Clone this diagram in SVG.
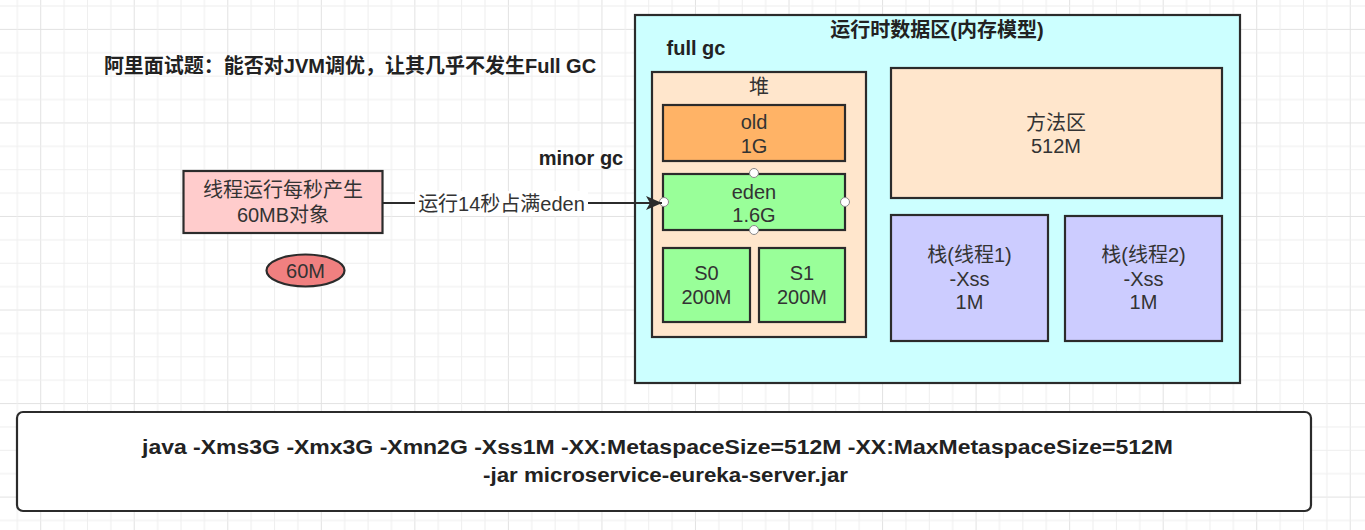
<svg xmlns="http://www.w3.org/2000/svg" width="1365" height="530" viewBox="0 0 1365 530">
<style>
.t{font-family:"Liberation Sans","Noto Sans CJK SC",sans-serif;font-size:20px;fill:#333;text-anchor:middle;dominant-baseline:central}
.b{font-weight:bold;fill:#222}
.box{stroke:#2b2b2b;stroke-width:2.2}
.h{fill:#fff;stroke:#888;stroke-width:1}
</style>
<defs>
<pattern id="grid" patternUnits="userSpaceOnUse" x="40.2" y="28.9" width="93.54" height="93.54">
<rect x="0" y="0" width="1" height="93.54" fill="#e2e2e2"/>
<rect x="0" y="0" width="93.54" height="1" fill="#e2e2e2"/>
<rect x="23.385" y="0" width="1" height="93.54" fill="#eeeeee"/>
<rect x="46.77" y="0" width="1" height="93.54" fill="#eeeeee"/>
<rect x="70.155" y="0" width="1" height="93.54" fill="#eeeeee"/>
<rect x="0" y="23.385" width="93.54" height="1" fill="#eeeeee"/>
<rect x="0" y="46.77" width="93.54" height="1" fill="#eeeeee"/>
<rect x="0" y="70.155" width="93.54" height="1" fill="#eeeeee"/>
</pattern>
<marker id="arr" markerUnits="userSpaceOnUse" markerWidth="18" markerHeight="14" refX="16" refY="7" orient="auto">
<path d="M0,0 L16,7 L0,14 L4,7 Z" fill="#2b2b2b"/>
</marker>
</defs>
<rect width="1365" height="530" fill="#fff"/>
<rect width="1365" height="530" fill="url(#grid)"/>

<g id="title"><text class="t b" x="350" y="66">阿里面试题：能否对JVM调优，让其几乎不发生Full GC</text></g>
<g id="minorgc"><text class="t b" x="581" y="158">minor gc</text></g>

<g id="runtime">
<rect class="box" x="635" y="15" width="605" height="368" fill="#ccffff" stroke-width="2.5"/>
<text class="t b" x="937" y="30">运行时数据区(内存模型)</text>
<text class="t b" x="696" y="48">full gc</text>
</g>

<g id="heap">
<rect class="box" x="652" y="72" width="214" height="265" fill="#ffe6cc"/>
<text class="t" x="759" y="87">堆</text>
</g>
<g id="old">
<rect class="box" x="663" y="105" width="182" height="56" fill="#ffb366"/>
<text class="t" x="754" y="122">old</text>
<text class="t" x="754" y="146">1G</text>
</g>
<g id="eden">
<rect class="box" x="663" y="174" width="182" height="56" fill="#99ff99"/>
<text class="t" x="754" y="192">eden</text>
<text class="t" x="754" y="215">1.6G</text>
<circle class="h" cx="754" cy="173" r="4.5"/>
<circle class="h" cx="754" cy="230" r="4.5"/>
<circle class="h" cx="664" cy="202" r="4.5"/>
<circle class="h" cx="845" cy="202" r="4.5"/>
</g>
<g id="s0">
<rect class="box" x="663" y="248" width="87" height="74" fill="#99ff99"/>
<text class="t" x="706.5" y="273">S0</text>
<text class="t" x="706.5" y="297">200M</text>
</g>
<g id="s1">
<rect class="box" x="759" y="248" width="86" height="74" fill="#99ff99"/>
<text class="t" x="802" y="273">S1</text>
<text class="t" x="802" y="297">200M</text>
</g>
<g id="method">
<rect class="box" x="891" y="68" width="331" height="130" fill="#ffe6cc"/>
<text class="t" x="1056" y="123">方法区</text>
<text class="t" x="1056" y="146">512M</text>
</g>
<g id="stack1">
<rect class="box" x="891" y="215" width="157" height="126" fill="#ccccff"/>
<text class="t" x="969.5" y="255">栈(线程1)</text>
<text class="t" x="969.5" y="279">-Xss</text>
<text class="t" x="969.5" y="302">1M</text>
</g>
<g id="stack2">
<rect class="box" x="1065" y="216" width="157" height="125" fill="#ccccff"/>
<text class="t" x="1143.5" y="255">栈(线程2)</text>
<text class="t" x="1143.5" y="279">-Xss</text>
<text class="t" x="1143.5" y="302">1M</text>
</g>

<g id="thread">
<rect class="box" x="183.5" y="171" width="199" height="62" fill="#ffcccc"/>
<text class="t" x="283" y="190">线程运行每秒产生</text>
<text class="t" x="283" y="215">60MB对象</text>
</g>
<g id="m60">
<ellipse class="box" cx="305.5" cy="270.5" rx="39" ry="16" fill="#f08080"/>
<text class="t" x="305.5" y="271">60M</text>
</g>

<g id="connectors">
<line x1="383" y1="203" x2="662" y2="203" stroke="#2b2b2b" stroke-width="2.2" marker-end="url(#arr)"/>
<rect x="415" y="191" width="173" height="25" fill="#fff"/>
<text class="t" x="501.5" y="204">运行14秒占满eden</text>
</g>

<g id="cmd">
<rect class="box" x="17" y="412" width="1294" height="99" rx="6" fill="#fff"/>
<text class="t b" x="657.5" y="447" textLength="1031" lengthAdjust="spacingAndGlyphs">java -Xms3G -Xmx3G -Xmn2G -Xss1M  -XX:MetaspaceSize=512M -XX:MaxMetaspaceSize=512M</text>
<text class="t b" x="665.5" y="475" textLength="365" lengthAdjust="spacingAndGlyphs">-jar microservice-eureka-server.jar</text>
</g>
</svg>
